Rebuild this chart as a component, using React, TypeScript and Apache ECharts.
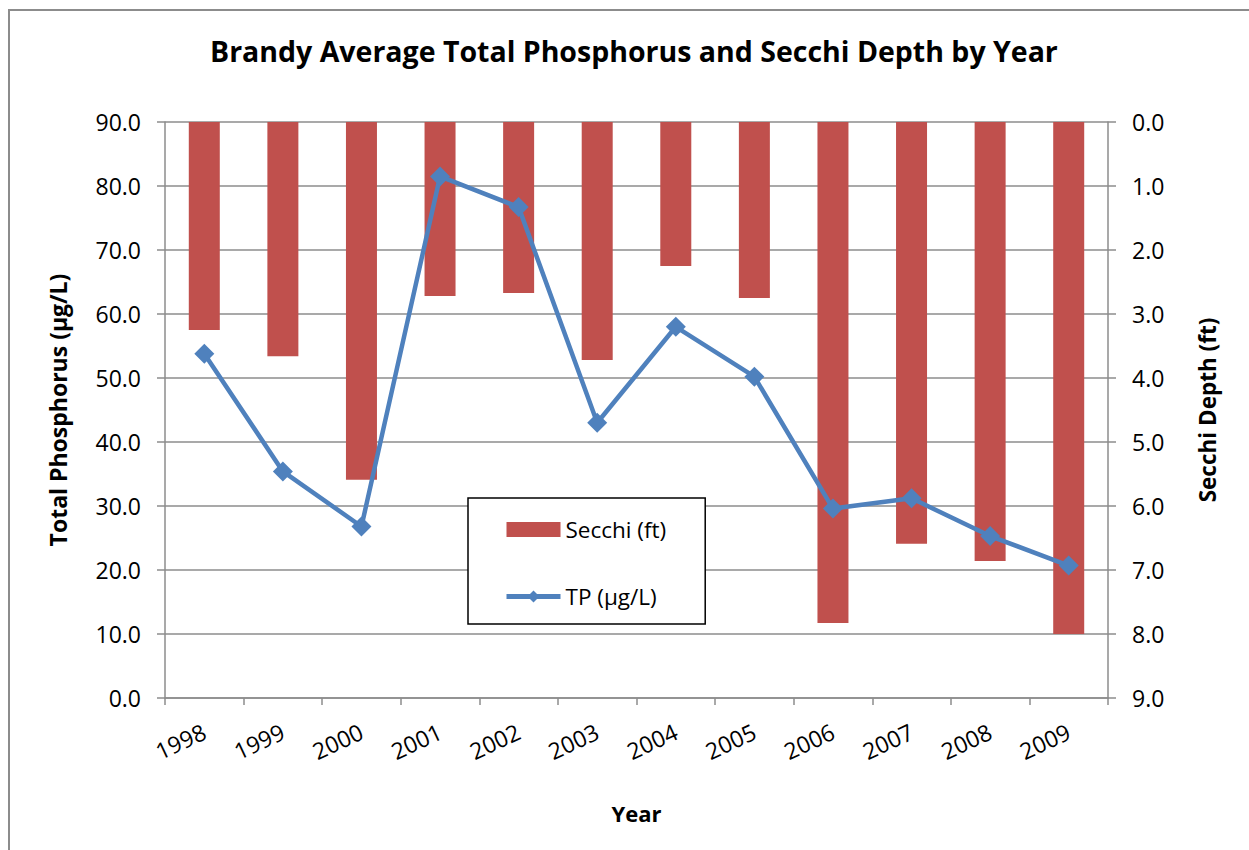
import React, { useEffect, useRef } from "react";
import * as echarts from "echarts";

const years = ["1998", "1999", "2000", "2001", "2002", "2003", "2004", "2005", "2006", "2007", "2008", "2009"];
const secchiFt = [3.25, 3.66, 5.59, 2.72, 2.67, 3.72, 2.25, 2.75, 7.83, 6.59, 6.86, 8.0];
const tpUgL = [53.8, 35.4, 26.8, 81.5, 76.7, 43.0, 58.0, 50.2, 29.6, 31.2, 25.3, 20.7];

const FONT = "'Open Sans', sans-serif";

export default function App() {
  const ref = useRef<HTMLDivElement>(null);
  useEffect(() => {
    document.body.style.margin = "0";
    const chart = echarts.init(ref.current!, null, { renderer: "svg" });
    chart.setOption({
      animation: false,
      backgroundColor: "#ffffff",
      textStyle: { fontFamily: FONT },
      title: {
        text: "Brandy Average Total Phosphorus and Secchi Depth by Year",
        left: 205,
        top: 31,
        textStyle: { fontFamily: FONT, fontWeight: "bold", fontSize: 28.5, color: "#000" },
      },
      graphic: [
        {
          type: "rect",
          shape: { x: 9, y: 10, width: 1300, height: 900 },
          style: { fill: "none", stroke: "#8c8c8c", lineWidth: 2 },
          silent: true,
        },
      ],
      legend: {
        orient: "vertical",
        left: 468,
        top: 498,
        padding: [20, 39, 16, 36],
        itemGap: 44,
        itemWidth: 54,
        itemHeight: 15,
        borderColor: "#000",
        borderWidth: 1.5,
        backgroundColor: "#fff",
        textStyle: { fontFamily: FONT, fontSize: 22.5, color: "#000" },
        data: [
          { name: "Secchi (ft)", icon: "rect" },
          { name: "TP (µg/L)", lineStyle: { width: 5 } },
        ],
      },
      grid: { left: 165, right: 141, top: 122, bottom: 152, containLabel: false },
      xAxis: {
        type: "category",
        data: years,
        boundaryGap: true,
        name: "Year",
        nameLocation: "middle",
        nameGap: 104,
        nameTextStyle: { fontFamily: FONT, fontWeight: "bold", fontSize: 22, color: "#000" },
        axisLine: { lineStyle: { color: "#8c8c8c", width: 1.5 } },
        axisTick: { show: true, alignWithLabel: false, length: 7, lineStyle: { color: "#8c8c8c", width: 1.5 } },
        axisLabel: { rotate: 25, margin: 32, fontFamily: FONT, fontSize: 23, color: "#000", interval: 0 },
      },
      yAxis: [
        {
          type: "value",
          min: 0,
          max: 90,
          interval: 10,
          position: "left",
          name: "Total Phosphorus (µg/L)",
          nameLocation: "middle",
          nameGap: 96,
          nameTextStyle: { fontFamily: FONT, fontWeight: "bold", fontSize: 23, color: "#000" },
          axisLine: { show: true, lineStyle: { color: "#8c8c8c", width: 1.5 } },
          axisTick: { show: true, length: 8, lineStyle: { color: "#8c8c8c", width: 1.5 } },
          axisLabel: {
            fontFamily: FONT,
            fontSize: 23,
            color: "#000",
            margin: 24,
            formatter: (v: number) => v.toFixed(1),
          },
          splitLine: { show: true, lineStyle: { color: "#8c8c8c", width: 1.5 } },
        },
        {
          type: "value",
          min: 0,
          max: 9,
          interval: 1,
          inverse: true,
          position: "right",
          name: "Secchi Depth (ft)",
          nameLocation: "middle",
          nameGap: 88,
          nameRotate: 90,
          nameTextStyle: { fontFamily: FONT, fontWeight: "bold", fontSize: 22.5, color: "#000" },
          axisLine: { show: true, lineStyle: { color: "#8c8c8c", width: 1.5 } },
          axisTick: { show: true, length: 8, lineStyle: { color: "#8c8c8c", width: 1.5 } },
          axisLabel: {
            fontFamily: FONT,
            fontSize: 23,
            color: "#000",
            margin: 24,
            formatter: (v: number) => v.toFixed(1),
          },
          splitLine: { show: false },
        },
      ],
      series: [
        {
          name: "Secchi (ft)",
          type: "bar",
          yAxisIndex: 1,
          data: secchiFt,
          barWidth: 31,
          itemStyle: { color: "#C0504D" },
          z: 2,
        },
        {
          name: "TP (µg/L)",
          type: "line",
          yAxisIndex: 0,
          data: tpUgL,
          symbol: "diamond",
          symbolSize: 20,
          lineStyle: { color: "#4F81BD", width: 4.5 },
          itemStyle: { color: "#4F81BD" },
          z: 3,
        },
      ],
    });
    return () => chart.dispose();
  }, []);
  return <div ref={ref} style={{ width: 1249, height: 850 }} />;
}
